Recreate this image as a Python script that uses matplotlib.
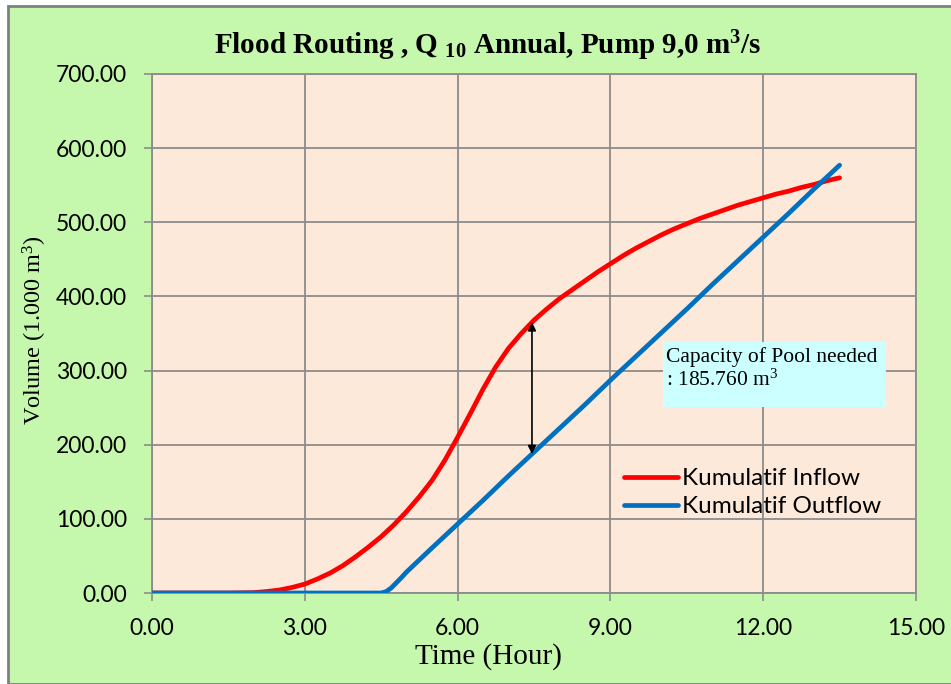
import numpy as np
import matplotlib
matplotlib.use("Agg")
import matplotlib.pyplot as plt
from matplotlib.patches import Rectangle

# Cumulative inflow (1.000 m3) against time (hour)
inflow_t = [0.0, 0.5, 1.0, 1.5, 2.0, 2.25, 2.5, 2.75, 3.0, 3.25, 3.5, 3.75, 4.0,
            4.25, 4.5, 4.75, 5.0, 5.25, 5.5, 5.75, 6.0, 6.25, 6.5, 6.75, 7.0,
            7.25, 7.5, 7.75, 8.0, 8.25, 8.5, 8.75, 9.0, 9.25, 9.5, 9.75, 10.0,
            10.25, 10.5, 10.75, 11.0, 11.25, 11.5, 11.75, 12.0, 12.25, 12.5,
            12.75, 13.0, 13.25, 13.5]
inflow_v = [0.0, 0.0, 0.0, 0.0, 0.5, 2.0, 4.0, 7.5, 12.0, 19.0, 27.0, 37.0, 49.0,
            62.0, 76.0, 92.0, 110.0, 130.0, 152.0, 179.0, 210.0, 242.0, 275.0, 305.0, 330.0,
            350.0, 368.0, 383.0, 397.0, 409.0, 421.0, 433.0, 444.0, 455.0, 465.0, 474.0, 483.0,
            491.0, 498.0, 505.0, 511.0, 517.0, 523.0, 528.0, 533.0, 538.0, 542.0,
            547.0, 551.0, 556.0, 560.0]

# Cumulative outflow (pump 9,0 m3/s)
outflow_t = [0.0, 4.5, 4.6, 4.7, 4.8, 4.9, 5.0, 5.5, 6.0, 6.5, 7.0, 7.5, 8.0, 8.5,
             9.0, 9.5, 10.0, 10.5, 11.0, 11.5, 12.0, 12.5, 13.0, 13.5]
outflow_v = [0.0, 0.0, 2.0, 7.0, 14.0, 21.0, 28.5, 61.0, 93.0, 125.0, 158.0, 190.0, 222.0, 254.0,
             287.0, 319.0, 351.0, 383.0, 416.0, 448.0, 480.0, 512.0, 545.0, 577.0]

x_ticks = [0, 3, 6, 9, 12, 15]
y_ticks = [0, 100, 200, 300, 400, 500, 600, 700]
arrow_t = 7.46
capacity_text = "Capacity of Pool needed\n: 185.760 m$^{3}$"

GREEN = "#C5F8AD"
PLOT_BG = "#FDE9DA"
GRID = "#8C8C8C"
RED = "#FF0000"
BLUE = "#0070C0"

plt.rcParams["mathtext.fontset"] = "custom"
plt.rcParams["mathtext.rm"] = "Liberation Serif"
plt.rcParams["mathtext.bf"] = "Liberation Serif:bold"
plt.rcParams["mathtext.it"] = "Liberation Serif:italic"

W, H = 951, 684
fig = plt.figure(figsize=(W / 100, H / 100), dpi=100, facecolor="white")

# chart area background with grey border on left/top
fig.patches.append(Rectangle((8 / W, 0), 1.0, 1 - 6 / H, transform=fig.transFigure,
                             facecolor=GREEN, edgecolor="#7F7F7F", linewidth=2.0, zorder=0))

L, R, T, B = 152, 916, 74, 593
ax = fig.add_axes([L / W, 1 - B / H, (R - L) / W, (B - T) / H])
ax.set_zorder(2)
ax.set_facecolor(PLOT_BG)

ax.plot(inflow_t, inflow_v, color=RED, lw=3.4, solid_capstyle="round",
        solid_joinstyle="round", label="Kumulatif Inflow", zorder=3)
ax.plot(outflow_t, outflow_v, color=BLUE, lw=3.4, solid_capstyle="round",
        solid_joinstyle="round", label="Kumulatif Outflow", zorder=3)

ax.set_xlim(0, 15)
ax.set_ylim(0, 700)
ax.set_xticks(x_ticks)
ax.set_yticks(y_ticks)
ax.set_xticklabels([f"{v:.2f}" for v in x_ticks])
ax.set_yticklabels([f"{v:.2f}" for v in y_ticks])
ax.grid(True, color=GRID, lw=1.3)
ax.set_axisbelow(True)
for s in ax.spines.values():
    s.set_color(GRID)
    s.set_linewidth(1.3)
ax.tick_params(axis="both", direction="out", length=6, width=1.2, color=GRID,
               labelsize=16.5, labelcolor="black")
ax.tick_params(axis="y", pad=12)
ax.tick_params(axis="x", pad=12)
for lab in ax.get_xticklabels() + ax.get_yticklabels():
    lab.set_fontfamily("Lato")

# arrow between curves
top = np.interp(arrow_t, inflow_t, inflow_v)
bot = np.interp(arrow_t, outflow_t, outflow_v)
ax.annotate("", xy=(arrow_t, top), xytext=(arrow_t, bot),
            arrowprops=dict(arrowstyle="<|-|>", color="black", lw=1.2,
                            mutation_scale=12, shrinkA=0, shrinkB=0), zorder=4)

# capacity text box
ax.add_patch(Rectangle((10.03, 251), 4.39, 87.5, facecolor="#CCFFFF", edgecolor="none", zorder=4))
ax.text(10.1, 331, capacity_text, ha="left", va="top", fontsize=15.5,
        family="Liberation Serif", linespacing=1.15, zorder=5)

leg = ax.legend(loc="upper left", bbox_to_anchor=((612 - L) / (R - L), (593 - 456) / (B - T)),
                frameon=False, handlelength=2.2, handletextpad=0.2, borderpad=0,
                labelspacing=0.3, prop={"family": "Lato", "size": 17.5})

fig.text(488 / W, 1 - 46 / H,
         r"Flood Routing , Q $_{\mathbf{10}}$ Annual, Pump 9,0 m$^{\mathbf{3}}$/s",
         ha="center", va="center", fontsize=21, fontweight="bold", family="Liberation Serif")
fig.text(488 / W, 1 - 657 / H, "Time (Hour)", ha="center", va="center",
         fontsize=21, family="Liberation Serif")
fig.text(35 / W, 1 - 330 / H, r"Volume (1.000 m$^{3}$)", ha="center", va="center",
         rotation=90, fontsize=17.5, family="Liberation Serif")

fig.savefig("out.png", dpi=100, facecolor="white")
